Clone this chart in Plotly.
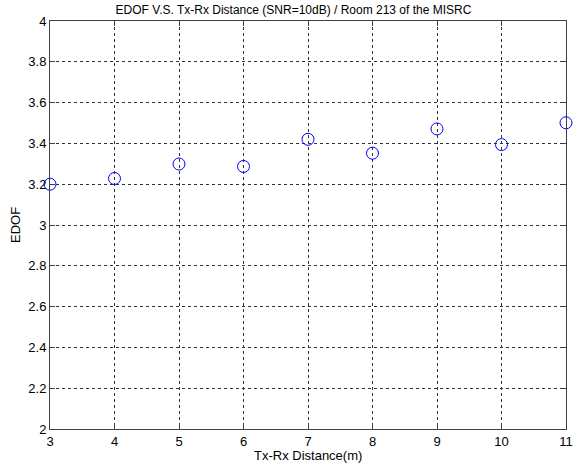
import plotly.graph_objects as go

distance = [3, 4, 5, 6, 7, 8, 9, 10, 11]
edof = [3.20, 3.228, 3.299, 3.287, 3.42, 3.352, 3.471, 3.394, 3.501]

x_ticks = [3, 4, 5, 6, 7, 8, 9, 10, 11]
y_ticks = [2, 2.2, 2.4, 2.6, 2.8, 3, 3.2, 3.4, 3.6, 3.8, 4]
y_labels = ["2", "2.2", "2.4", "2.6", "2.8", "3", "3.2", "3.4", "3.6", "3.8", "4"]

FONT = "Liberation Sans, Arial"

fig = go.Figure()
fig.add_trace(go.Scatter(
    x=distance, y=edof, mode="markers",
    marker=dict(symbol="circle-open", size=12, color="#0000ff", line=dict(width=1)),
    cliponaxis=False, showlegend=False,
))

axis_common = dict(
    showline=True, linecolor="#404040", linewidth=1, mirror="ticks",
    ticks="inside", ticklen=5, tickcolor="#404040",
    showgrid=True, gridcolor="#333333", griddash="dot", gridwidth=1,
    zeroline=False,
    tickfont=dict(family=FONT, size=13, color="black"),
)

W, H = 587, 469
L, R, T, B = 50, 21, 21, 40
pw, ph = W - L - R, H - T - B

fig.update_layout(
    width=W, height=H,
    margin=dict(l=L, r=R, t=T, b=B),
    paper_bgcolor="white", plot_bgcolor="white",
    title=dict(text="EDOF V.S. Tx-Rx Distance (SNR=10dB) / Room 213 of the MISRC",
               x=0.5, xanchor="center", y=1 - 10/H, yanchor="middle",
               font=dict(family=FONT, size=12, color="black")),
    xaxis=dict(range=[3, 11], tickvals=x_ticks, ticktext=[str(v) for v in x_ticks],
               **axis_common),
    yaxis=dict(range=[2, 4], tickvals=y_ticks, ticktext=y_labels,
               **axis_common),
    annotations=[
        dict(text="Tx-Rx Distance(m)", xref="paper", yref="paper",
             x=0.5, y=-(455 - (H - B)) / ph, xanchor="center", yanchor="middle",
             showarrow=False, font=dict(family=FONT, size=13, color="black")),
        dict(text="EDOF", xref="paper", yref="paper", textangle=-90,
             x=-(L - 15) / pw, y=0.5, xanchor="center", yanchor="middle",
             showarrow=False, font=dict(family=FONT, size=13, color="black")),
    ],
)

fig.write_html("out.html")
